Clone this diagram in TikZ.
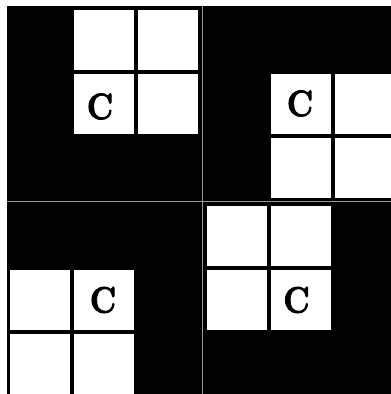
\documentclass[tikz,border=0pt]{standalone}
\usepackage{fontspec}
\newfontface\cfont{lmroman10-bold}[Extension=.otf,FakeBold=2.5]
\begin{document}
\begin{tikzpicture}[x=1bp,y=-1bp,
  cell/.style={fill=white},
  sep/.style={draw=black!40,line width=1bp},
  letter/.style={inner sep=0pt,xscale=0.86,font=\cfont\fontsize{37}{37}\selectfont}]
\useasboundingbox (0,0) rectangle (391,394);
\fill[black] (7,6) rectangle (391,394);
% top-left panel
\foreach \x/\y in {74/10,138/10,74/74,138/74}
  \fill[cell] (\x,\y) rectangle ++(60,59.5);
% top-right panel
\foreach \x/\y in {270.5/74,334.5/74,270.5/138,334.5/138}
  \fill[cell] (\x,\y) rectangle ++(60,59.5);
% bottom-left panel
\foreach \x/\y in {10/270,74/270,10/334,74/334}
  \fill[cell] (\x,\y) rectangle ++(60,59.5);
% bottom-right panel
\foreach \x/\y in {206.5/206,270.5/206,206.5/270,270.5/270}
  \fill[cell] (\x,\y) rectangle ++(60,59.5);
% separators
\coordinate (vt) at (202.3,6);
\coordinate (vb) at (202.3,394);
\coordinate (hl) at (7,201.7);
\coordinate (hr) at (391,201.7);
\draw[sep] (vt) -- (vb);
\draw[sep] (hl) -- (hr);
% letters
\node[letter] (c1) at (100,106.5) {C};
\node[letter] (c2) at (300,103.5) {C};
\node[letter] (c3) at (103,300) {C};
\node[letter] (c4) at (296.5,300) {C};
\end{tikzpicture}
\end{document}
